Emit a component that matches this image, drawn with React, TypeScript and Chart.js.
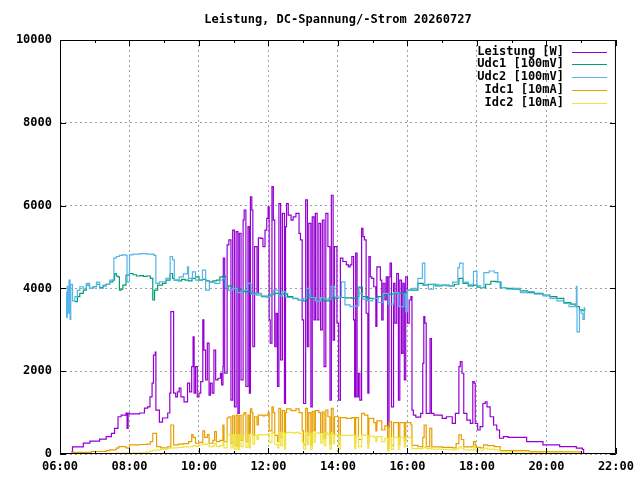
import { Chart, registerables } from "chart.js";
import { useEffect, useRef } from "react";
Chart.register(...registerables);

const title = "Leistung, DC-Spannung/-Strom 20260727";
const seriesLabels = ["Leistung [W]", "Udc1 [100mV]", "Udc2 [100mV]", "Idc1 [10mA]", "Idc2 [10mA]"];
const seriesColors = ["#9400d3", "#009e73", "#56b4e9", "#e69f00", "#f0e442"];
// hours of day
const xMajor = [6, 8, 10, 12, 14, 16, 18, 20, 22];
const xMinor = [7, 9, 11, 13, 15, 17, 19, 21];
const yTicks = [0, 2000, 4000, 6000, 8000, 10000];

const powerTimes = [
  6.33, 6.36, 6.67, 6.86, 7.14, 7.33, 7.48, 7.57, 7.67, 7.76, 7.9, 7.93, 7.96, 8.0, 8.29, 8.43, 8.52, 8.59, 8.65, 8.69,
  8.74, 8.76, 8.86, 8.95, 9.1, 9.16, 9.19, 9.25, 9.27, 9.33, 9.38, 9.43, 9.48, 9.57, 9.67, 9.73, 9.79, 9.83, 9.86, 9.9,
  9.95, 10.0, 10.05, 10.11, 10.14, 10.19, 10.24, 10.29, 10.33, 10.38, 10.43, 10.48, 10.55, 10.62, 10.65, 10.69, 10.7, 10.74, 10.81, 10.86,
  10.92, 10.97, 11.02, 11.07, 11.12, 11.16, 11.21, 11.27, 11.3, 11.35, 11.41, 11.45, 11.48, 11.52, 11.55, 11.6, 11.67, 11.71, 11.78, 11.84,
  11.9, 11.95, 11.99, 12.02, 12.05, 12.1, 12.14, 12.18, 12.22, 12.26, 12.3, 12.35, 12.4, 12.46, 12.49, 12.52, 12.57, 12.65, 12.71, 12.79,
  12.84, 12.88, 12.92, 12.97, 13.01, 13.07, 13.12, 13.16, 13.22, 13.26, 13.31, 13.35, 13.4, 13.45, 13.5, 13.55, 13.6, 13.65, 13.71, 13.77,
  13.81, 13.86, 13.9, 13.97, 14.02, 14.07, 14.14, 14.24, 14.3, 14.35, 14.4, 14.45, 14.48, 14.51, 14.55, 14.59, 14.63, 14.68, 14.72, 14.76,
  14.81, 14.86, 14.89, 14.93, 14.97, 15.03, 15.09, 15.12, 15.17, 15.22, 15.26, 15.3, 15.35, 15.39, 15.43, 15.47, 15.5, 15.54, 15.6, 15.64,
  15.69, 15.74, 15.78, 15.83, 15.87, 15.91, 15.95, 16.0, 16.05, 16.1, 16.13, 16.17, 16.24, 16.3, 16.38, 16.44, 16.47, 16.5, 16.54, 16.62,
  16.65, 16.69, 16.76, 16.86, 17.0, 17.12, 17.29, 17.38, 17.48, 17.52, 17.57, 17.62, 17.71, 17.81, 17.88, 17.92, 17.95, 18.02, 18.09, 18.17,
  18.24, 18.29, 18.38, 18.48, 18.57, 18.65, 18.76, 18.9, 19.43, 19.9, 20.38, 20.86, 21.03, 21.07,
];
const powerW = [
  55, 170, 265, 310, 360, 420, 500, 620, 900, 940, 990, 620, 990, 970, 990, 1110, 1140, 1380, 1710, 2390,
  2460, 1060, 770, 870, 990, 1470, 3440, 3440, 1470, 1380, 1500, 1590, 1380, 1260, 1710, 1500, 2110, 2830, 1470, 2110,
  1380, 1470, 1750, 3240, 2510, 1790, 2680, 1420, 1710, 1470, 2510, 1790, 1830, 1950, 1670, 2110, 4730, 1950, 5050, 5170,
  1300, 5410, 1140, 5370, 980, 5330, 1790, 5650, 5890, 1630, 5490, 1470, 6210, 5890, 2590, 5010, 3880, 5220, 5210, 5010,
  5410, 5690, 5970, 3240, 2680, 6460, 5650, 2590, 3400, 1630, 6050, 2270, 5810, 1220, 5490, 6050, 5770, 5650, 5730, 5810,
  5810, 5330, 5170, 3240, 1220, 6140, 2590, 5570, 1140, 5730, 3240, 5810, 3240, 5570, 3000, 5650, 2110, 5810, 5010, 1300,
  6250, 2750, 5010, 3160, 1300, 4730, 4650, 4570, 4520, 4570, 4770, 3240, 1380, 4850, 1380, 1950, 1300, 5450, 5250, 5170,
  3400, 1470, 4770, 4280, 4240, 4040, 3080, 4520, 4520, 4200, 3240, 4120, 3720, 4280, 660, 4280, 4610, 1140, 4120, 3160,
  4360, 1300, 4200, 2430, 4120, 1790, 4280, 3160, 3720, 3800, 1060, 940, 890, 890, 980, 2190, 3320, 3160, 980, 980,
  2790, 980, 940, 940, 860, 900, 740, 980, 2110, 2230, 1950, 980, 820, 740, 1750, 1710, 740, 580, 660, 1220,
  1260, 1140, 900, 700, 580, 380, 420, 400, 300, 220, 180, 140, 110, 20,
];

const udc1Times = [
  6.43, 6.5, 6.57, 6.67, 6.76, 6.85, 6.95, 7.05, 7.14, 7.24, 7.33, 7.43, 7.52, 7.57, 7.62, 7.67, 7.71, 7.76, 7.81, 7.9,
  8.0, 8.1, 8.2, 8.3, 8.4, 8.5, 8.6, 8.67, 8.72, 8.81, 8.95, 9.05, 9.17, 9.24, 9.29, 9.4, 9.5, 9.6, 9.7, 9.8,
  9.9, 10.0, 10.1, 10.2, 10.3, 10.4, 10.5, 10.6, 10.68, 10.76, 10.85, 10.95, 11.1, 11.25, 11.4, 11.5, 11.65, 11.8, 11.95, 12.0,
  12.15, 12.3, 12.45, 12.55, 12.7, 12.85, 13.0, 13.1, 13.2, 13.35, 13.5, 13.6, 13.75, 13.85, 14.0, 14.2, 14.4, 14.55, 14.6, 14.7,
  14.85, 15.0, 15.15, 15.3, 15.45, 15.6, 15.75, 15.9, 16.0, 16.15, 16.3, 16.45, 16.6, 16.8, 17.0, 17.2, 17.35, 17.48, 17.6, 17.75,
  17.9, 18.0, 18.1, 18.25, 18.4, 18.55, 18.67, 18.85, 19.05, 19.25, 19.45, 19.65, 19.9, 20.1, 20.3, 20.5, 20.7, 20.85, 20.95, 21.05,
  21.1,
];
const udc1 = [
  3680, 3800, 3880, 3960, 4080, 4000, 4040, 4100, 4020, 4060, 4100, 4160, 4200, 4360, 4300, 4280, 3960, 3980, 4080, 4320,
  4360, 4330, 4300, 4310, 4290, 4300, 4240, 3720, 3960, 4080, 4120, 4200, 4360, 4240, 4200, 4180, 4220, 4200, 4180, 4240,
  4280, 4200, 4220, 4180, 4160, 4180, 4200, 4280, 4300, 4040, 4060, 4000, 3960, 3920, 3920, 3880, 3840, 3800, 3790, 3850,
  3880, 3860, 3870, 3800, 3760, 3720, 3700, 3850, 3760, 3720, 3730, 3700, 3780, 3760, 3780, 3770, 3760, 3800, 4030, 3800,
  3760, 3750, 3800, 3840, 3860, 3880, 3880, 3900, 3960, 3960, 4120, 4080, 4100, 4060, 4080, 4060, 4100, 4240, 4120, 4060,
  4080, 4030, 4020, 4100, 4170, 4160, 4020, 4000, 3980, 3940, 3900, 3880, 3840, 3800, 3760, 3660, 3620, 3560, 3480, 3460,
  3520,
];

const udc2Times = [
  6.17, 6.19, 6.21, 6.24, 6.26, 6.29, 6.31, 6.36, 6.43, 6.5, 6.57, 6.67, 6.76, 6.85, 6.95, 7.05, 7.14, 7.24, 7.33, 7.43,
  7.52, 7.55, 7.62, 7.71, 7.8, 7.9, 7.93, 7.97, 8.0, 8.1, 8.3, 8.5, 8.7, 8.76, 8.86, 9.05, 9.17, 9.24, 9.29, 9.43,
  9.55, 9.67, 9.7, 9.81, 9.9, 10.1, 10.19, 10.3, 10.45, 10.6, 10.68, 10.76, 10.85, 10.95, 11.1, 11.25, 11.4, 11.5, 11.65, 11.8,
  11.95, 12.05, 12.15, 12.3, 12.4, 12.5, 12.7, 12.85, 13.0, 13.1, 13.2, 13.35, 13.5, 13.6, 13.8, 13.9, 14.0, 14.1, 14.2, 14.35,
  14.5, 14.6, 14.7, 14.85, 15.0, 15.15, 15.3, 15.45, 15.6, 15.75, 15.9, 15.95, 16.0, 16.15, 16.3, 16.43, 16.5, 16.6, 16.75, 16.9,
  17.1, 17.3, 17.45, 17.5, 17.6, 17.75, 17.9, 18.0, 18.1, 18.2, 18.35, 18.5, 18.6, 18.7, 18.85, 19.05, 19.25, 19.45, 19.65, 19.9,
  20.1, 20.3, 20.5, 20.65, 20.8, 20.86, 20.88, 20.95, 21.0, 21.05, 21.09,
];
const udc2 = [
  3900, 3300, 4050, 3400, 4200, 3250, 4100, 3700, 3800, 3950, 4040, 4000, 4120, 4000, 4040, 4150, 4000, 4080, 4100, 4200,
  4200, 4730, 4770, 4800, 4810, 4800, 4160, 4160, 4810, 4830, 4840, 4830, 4800, 4120, 4160, 4240, 4770, 4690, 4200, 4280,
  4350, 4520, 4240, 4400, 4200, 4440, 3960, 4150, 4120, 4200, 4240, 4040, 3950, 4000, 3900, 3960, 4120, 3860, 3880, 3820,
  3800, 3860, 3960, 3820, 3920, 3780, 3750, 3730, 3760, 4000, 3780, 3700, 3780, 3740, 4050, 3800, 3780, 4160, 3600, 3560,
  3580, 3880, 3740, 3700, 3760, 3660, 3880, 3620, 3900, 3560, 3860, 3440, 3960, 4000, 4240, 4610, 4080, 3980, 4100, 4080,
  4060, 4150, 4500, 4610, 4150, 4100, 4410, 4060, 4020, 4380, 4420, 4380, 4150, 4020, 3980, 4000, 3900, 3920, 3860, 3820,
  3760, 3700, 3640, 3560, 3600, 4050, 2950, 3480, 3400, 3250, 3550,
];

const idcTimes = [
  6.33, 6.9, 7.33, 7.43, 7.62, 7.69, 7.76, 7.9, 7.95, 8.0, 8.29, 8.5, 8.6, 8.67, 8.74, 8.78, 8.9, 9.1, 9.19, 9.25,
  9.27, 9.4, 9.55, 9.7, 9.79, 9.83, 9.9, 10.0, 10.11, 10.16, 10.24, 10.29, 10.4, 10.45, 10.5, 10.6, 10.69, 10.72, 10.81, 10.86,
  10.92, 10.97, 11.02, 11.07, 11.12, 11.16, 11.21, 11.27, 11.3, 11.35, 11.41, 11.45, 11.48, 11.52, 11.55, 11.6, 11.67, 11.71, 11.84, 11.9,
  11.99, 12.02, 12.1, 12.14, 12.18, 12.26, 12.3, 12.35, 12.4, 12.46, 12.49, 12.52, 12.65, 12.79, 12.88, 12.97, 13.01, 13.07, 13.12, 13.16,
  13.22, 13.26, 13.31, 13.35, 13.45, 13.5, 13.55, 13.6, 13.65, 13.71, 13.77, 13.81, 13.86, 13.9, 14.02, 14.07, 14.24, 14.4, 14.48, 14.51,
  14.59, 14.68, 14.76, 14.86, 14.89, 15.03, 15.09, 15.12, 15.26, 15.35, 15.43, 15.47, 15.54, 15.6, 15.74, 15.78, 15.91, 15.95, 16.1, 16.13,
  16.3, 16.44, 16.48, 16.54, 16.62, 16.64, 16.7, 17.0, 17.3, 17.4, 17.48, 17.55, 17.62, 17.85, 17.9, 17.95, 18.1, 18.19, 18.3, 18.5,
  18.67, 19.5, 20.5, 21.0,
];
const idc1 = [
  40, 60, 80, 100, 140, 180, 180, 150, 140, 220, 230, 240, 300, 500, 500, 180, 150, 170, 700, 700,
  220, 240, 250, 300, 470, 400, 260, 280, 560, 400, 470, 260, 330, 540, 300, 330, 700, 300, 870, 900,
  250, 920, 200, 940, 180, 930, 330, 950, 1000, 300, 940, 280, 1090, 1000, 450, 900, 700, 940, 920, 940,
  1000, 560, 1140, 1000, 450, 300, 1100, 400, 1050, 220, 1000, 1090, 1050, 1090, 1000, 560, 220, 1100, 450, 1000,
  200, 1030, 560, 1050, 1000, 520, 1020, 380, 1060, 900, 230, 1100, 480, 900, 230, 880, 860, 880, 250, 880,
  350, 980, 940, 270, 860, 760, 560, 800, 580, 680, 130, 780, 210, 760, 240, 760, 320, 760, 700, 210,
  180, 400, 700, 180, 180, 620, 170, 160, 150, 250, 460, 350, 170, 180, 300, 160, 150, 220, 200, 180,
  80, 60, 50, 40,
];
const idc2 = [
  5, 10, 15, 15, 20, 20, 20, 20, 15, 20, 25, 50, 70, 90, 100, 100, 110, 140, 150, 150,
  150, 160, 170, 180, 180, 200, 190, 220, 260, 230, 260, 180, 200, 250, 180, 200, 300, 150, 460, 470,
  150, 470, 120, 460, 110, 460, 180, 470, 480, 160, 460, 150, 490, 480, 240, 450, 350, 470, 460, 470,
  490, 280, 530, 500, 230, 150, 520, 200, 510, 120, 500, 520, 510, 520, 500, 280, 120, 520, 230, 500,
  110, 500, 280, 510, 500, 260, 500, 200, 510, 460, 120, 510, 250, 460, 120, 450, 450, 450, 130, 440,
  180, 460, 450, 140, 430, 410, 300, 420, 300, 380, 70, 400, 110, 400, 120, 400, 170, 400, 380, 130,
  130, 150, 160, 130, 130, 140, 120, 110, 100, 120, 170, 140, 100, 100, 180, 90, 90, 140, 120, 100,
  50, 40, 30, 20,
];

const FONT = "bold 12px 'DejaVu Sans Mono'";
const toPoints = (xs: number[], ys: number[]) => xs.map((x, i) => ({ x, y: ys[i] }));

// gnuplot-like frame: border, inward ticks, title, legend on the right
const frame = {
  id: "frame",
  afterDatasetsDraw(chart: Chart) {
    const { ctx, chartArea: a, scales } = chart;
    const xs = scales.x;
    const ys = scales.y;
    ctx.save();
    ctx.strokeStyle = "#000";
    ctx.lineWidth = 1;
    ctx.beginPath();
    ctx.rect(a.left + 0.5, a.top + 0.5, a.right - a.left - 1, a.bottom - a.top - 1);
    for (const v of xMajor) {
      const px = Math.round(xs.getPixelForValue(v)) + 0.5;
      ctx.moveTo(px, a.bottom);
      ctx.lineTo(px, a.bottom - 6);
      ctx.moveTo(px, a.top);
      ctx.lineTo(px, a.top + 6);
    }
    for (const v of xMinor) {
      const px = Math.round(xs.getPixelForValue(v)) + 0.5;
      ctx.moveTo(px, a.bottom);
      ctx.lineTo(px, a.bottom - 3);
      ctx.moveTo(px, a.top);
      ctx.lineTo(px, a.top + 3);
    }
    for (const v of yTicks) {
      const py = Math.round(ys.getPixelForValue(v)) + 0.5;
      ctx.moveTo(a.left, py);
      ctx.lineTo(a.left + 6, py);
      ctx.moveTo(a.right, py);
      ctx.lineTo(a.right - 6, py);
    }
    ctx.stroke();

    ctx.font = FONT;
    ctx.fillStyle = "#000";
    ctx.textBaseline = "middle";
    ctx.textAlign = "center";
    ctx.fillText(title, (a.left + a.right) / 2, 20);

    ctx.textAlign = "right";
    seriesLabels.forEach((label, i) => {
      const y = 51.5 + i * 12.75;
      ctx.fillStyle = "#000";
      ctx.fillText(label, 564, y);
      ctx.strokeStyle = seriesColors[i];
      ctx.beginPath();
      ctx.moveTo(572, Math.round(y) + 0.5);
      ctx.lineTo(607, Math.round(y) + 0.5);
      ctx.stroke();
    });
    ctx.restore();
  },
};

const App = () => {
  const ref = useRef<null | HTMLCanvasElement>(null);
  useEffect(() => {
    if (!ref.current) return;
    const ctx = ref.current.getContext("2d");
    if (!ctx) throw new Error("Canvas Error: Ctx not available");
    const line = (i: number, data: { x: number; y: number }[]) => ({
      label: seriesLabels[i],
      data,
      borderColor: seriesColors[i],
      backgroundColor: seriesColors[i],
      borderWidth: 1.2,
      pointRadius: 0,
      stepped: true,
      fill: false,
      order: 5 - i,
    });
    const chart = new Chart(ctx, {
      type: "line",
      data: {
        datasets: [
          line(0, toPoints(powerTimes, powerW)),
          line(1, toPoints(udc1Times, udc1)),
          line(2, toPoints(udc2Times, udc2)),
          line(3, toPoints(idcTimes, idc1)),
          line(4, toPoints(idcTimes, idc2)),
        ],
      },
      options: {
        animation: false,
        responsive: true,
        maintainAspectRatio: false,
        layout: { padding: { top: 40, right: 20, left: 0, bottom: 0 } },
        plugins: { legend: { display: false }, title: { display: false }, tooltip: { enabled: false } },
        scales: {
          x: {
            type: "linear",
            min: 6,
            max: 22,
            afterFit: (s: any) => {
              s.height = 26;
            },
            ticks: {
              stepSize: 2,
              padding: 6,
              maxRotation: 0,
              color: "#000",
              font: { family: "'DejaVu Sans Mono'", size: 12, weight: "bold" },
              callback: (v: any) => String(v).padStart(2, "0") + ":00",
            },
            grid: { color: "#a0a0a0", drawTicks: false },
            border: { display: false, dash: [2, 3] },
          },
          y: {
            min: 0,
            max: 10000,
            afterFit: (s: any) => {
              s.width = 60;
            },
            ticks: {
              stepSize: 2000,
              padding: 8,
              color: "#000",
              font: { family: "'DejaVu Sans Mono'", size: 12, weight: "bold" },
              callback: (v: any) => String(v),
            },
            grid: { color: "#a0a0a0", drawTicks: false },
            border: { display: false, dash: [2, 3] },
          },
        },
      },
      plugins: [frame],
    });
    return () => chart.destroy();
  }, []);

  return (
    <div style={{ position: "fixed", left: 0, top: 0, width: 640, height: 480, background: "#fff" }}>
      <canvas ref={ref}></canvas>
    </div>
  );
};

export default App;
